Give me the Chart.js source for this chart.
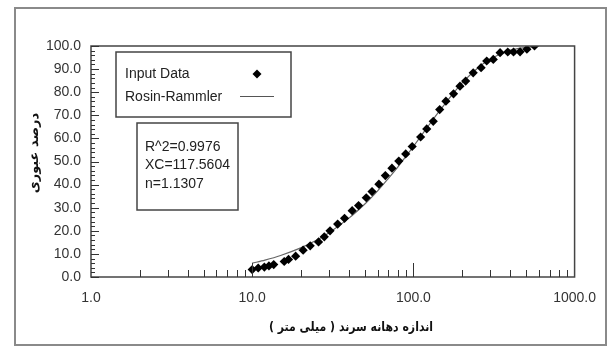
<!DOCTYPE html>
<html><head><meta charset="utf-8">
<script src="https://cdn.jsdelivr.net/npm/chart.js@4/dist/chart.umd.min.js"></script>
<style>html,body{margin:0;padding:0;background:#fff}#wrap{width:609px;height:347px;position:relative}</style>
</head><body><div id="wrap"><canvas id="c" width="609" height="347"></canvas></div>
<script>
const sizes = [10.0,10.9,11.9,12.7,13.6,15.8,16.8,18.6,20.7,22.9,25.8,28.0,30.4,33.9,37.4,41.7,45.7,51.0,55.4,61.1,67.0,73.6,81.2,89.6,98.3,110.9,121.0,132.8,145.6,159.1,177.4,194.5,211,235,263,285,313,345,385,418,459,506,564];
const passing = [3.2,3.9,4.3,4.8,5.4,6.7,7.6,9.0,11.6,13.5,15.2,17.4,20.0,22.9,25.4,28.7,30.9,34.3,37.0,40.2,43.9,47.1,50.2,53.3,56.5,60.6,64.1,67.4,72.5,76.1,79.3,82.6,84.8,88.4,90.6,93.5,94.2,97.1,97.4,97.4,97.5,98.6,100];
const fitSizes = [10,12,15,20,25,30,40,50,60,70,80,90,100,120,150,200,250,300,400,500,564];
const fitPassing = [6.0,7.3,9.3,12.6,15.9,19.2,25.6,31.6,37.3,42.7,47.6,52.3,56.5,64.1,73.2,83.9,90.4,94.4,98.2,99.4,99.7];
const xTickValues = [1,10,100,1000];
const yTitle = 'درصد عبوری';
const xTitle = 'اندازه دهانه سرند ( میلی متر )';
const legendLabels = ['Input Data','Rosin-Rammler'];
const statLines = ['R^2=0.9976','XC=117.5604','n=1.1307'];

const FONT = '"Liberation Sans", Arial, sans-serif';
const decor = {
  id:'decor',
  afterDraw(chart){
    const ctx = chart.ctx, a = chart.chartArea, xs = chart.scales.x, ys = chart.scales.y;
    ctx.save();
    // outer frame
    ctx.strokeStyle = '#8a8a8a'; ctx.lineWidth = 2;
    ctx.strokeRect(15, 8, 591, 337);
    // plot box
    ctx.strokeStyle = '#444'; ctx.lineWidth = 1.5;
    ctx.strokeRect(a.left, a.top, a.right - a.left, a.bottom - a.top);
    // y ticks (inward)
    ctx.lineWidth = 1; ctx.strokeStyle = '#333';
    for (let v = 0; v <= 100; v += 2) {
      const y = Math.round(ys.getPixelForValue(v)) + 0.5;
      const len = v % 10 === 0 ? 8 : 4;
      ctx.beginPath(); ctx.moveTo(a.left, y); ctx.lineTo(a.left + len, y); ctx.stroke();
    }
    // x ticks (inward, upward)
    for (let d = 1; d < 1000; d *= 10) {
      for (let m = 1; m <= 9; m++) {
        const v = d * m; if (v === 1) continue;
        const x = Math.round(xs.getPixelForValue(v)) + 0.5;
        const len = m === 1 ? 14 : 7;
        ctx.beginPath(); ctx.moveTo(x, a.bottom); ctx.lineTo(x, a.bottom - len); ctx.stroke();
      }
    }
    // legend box
    ctx.strokeStyle = '#444'; ctx.lineWidth = 1.5;
    ctx.fillStyle = '#fff';
    ctx.fillRect(116, 52, 175, 65); ctx.strokeRect(116, 52, 175, 65);
    ctx.fillStyle = '#222'; ctx.font = '14px ' + FONT; ctx.textBaseline = 'middle'; ctx.textAlign = 'left';
    ctx.fillText(legendLabels[0], 125, 74);
    ctx.fillText(legendLabels[1], 125, 97);
    ctx.beginPath(); ctx.moveTo(257, 69.5); ctx.lineTo(261.5, 74); ctx.lineTo(257, 78.5); ctx.lineTo(252.5, 74); ctx.closePath();
    ctx.fillStyle = '#000'; ctx.fill();
    ctx.strokeStyle = '#555'; ctx.lineWidth = 1.2;
    ctx.beginPath(); ctx.moveTo(240, 96.5); ctx.lineTo(274, 96.5); ctx.stroke();
    // stats box
    ctx.strokeStyle = '#444'; ctx.lineWidth = 1.5;
    ctx.fillStyle = '#fff'; ctx.fillRect(137, 123, 101, 87); ctx.strokeRect(137, 123, 101, 87);
    ctx.fillStyle = '#222'; ctx.font = '14px ' + FONT;
    statLines.forEach((t, i) => ctx.fillText(t, 145, 147 + i * 18.5));
    // axis titles
    ctx.font = 'bold 13px "DejaVu Sans", "Noto Sans", sans-serif';
    ctx.fillStyle = '#111'; ctx.textAlign = 'center';
    ctx.save();
    ctx.translate(351, 328); ctx.scale(0.84, 1);
    ctx.fillText(xTitle, 0, 0);
    ctx.restore();
    ctx.translate(35, 153); ctx.rotate(-Math.PI / 2);
    ctx.fillText(yTitle, 0, 0);
    ctx.restore();
  }
};

new Chart(document.getElementById('c'), {
  type: 'scatter',
  data: {
    datasets: [
      { label: legendLabels[0], data: sizes.map((s, i) => ({x: s, y: passing[i]})),
        pointStyle: 'rectRot', pointRadius: 4.6, backgroundColor: '#000', borderColor: '#000', borderWidth: 0, order: 1 },
      { label: legendLabels[1], data: fitSizes.map((s, i) => ({x: s, y: fitPassing[i]})),
        showLine: true, pointRadius: 0, borderColor: '#666', borderWidth: 1.2, tension: 0.3, order: 2 }
    ]
  },
  options: {
    responsive: false, animation: false,
    layout: { padding: { top: 46, right: 26, left: 0, bottom: 0 } },
    plugins: { legend: { display: false }, tooltip: { enabled: false } },
    scales: {
      x: {
        type: 'logarithmic', min: 1, max: 1000,
        afterBuildTicks: s => { s.ticks = xTickValues.map(v => ({value: v})); },
        afterFit: s => { s.height = 70; },
        grid: { display: false, drawTicks: false },
        border: { display: false },
        ticks: { padding: 13, color: '#333', font: { family: FONT, size: 14 }, maxRotation: 0, autoSkip: false,
          callback: v => Number(v).toFixed(1) }
      },
      y: {
        min: 0, max: 100,
        afterFit: s => { s.width = 91; },
        grid: { display: false, drawTicks: false },
        border: { display: false },
        ticks: { stepSize: 10, padding: 10, color: '#333', font: { family: FONT, size: 14 },
          callback: v => Number(v).toFixed(1) }
      }
    }
  },
  plugins: [decor]
});
</script></body></html>
